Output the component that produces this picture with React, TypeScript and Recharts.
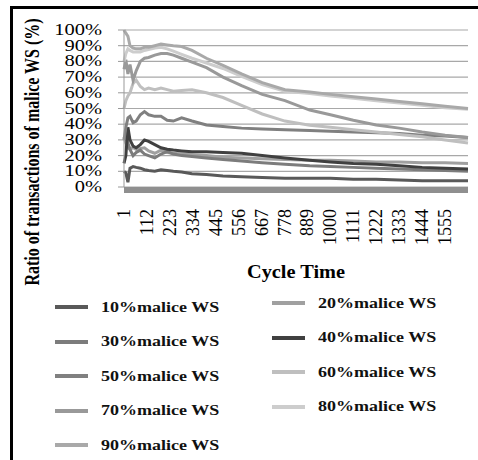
import { CartesianGrid, Label, Line, LineChart, XAxis, YAxis } from 'recharts';

const cycles = [1, 10, 20, 30, 45, 60, 80, 100, 120, 150, 180, 210, 240, 280, 330, 400, 480, 570, 670, 780, 900, 1000, 1111, 1222, 1333, 1444, 1555, 1666];
const xTicks = [1, 112, 223, 334, 445, 556, 667, 778, 889, 1000, 1111, 1222, 1333, 1444, 1555];
const yTicks = [0, 10, 20, 30, 40, 50, 60, 70, 80, 90, 100];

const malice10 = [10, 9, 3, 12, 13, 12.5, 12, 11, 10.5, 10, 11, 10.5, 10, 9.5, 8.5, 8, 7, 6.5, 6, 5.5, 5.5, 5.5, 5, 5, 4.5, 4, 4, 4];
const malice20 = [32, 28, 25, 24, 25, 24, 24.5, 25, 23, 21.5, 23.5, 22, 21.5, 21, 20.5, 20, 19, 18.5, 18, 17.5, 17, 17, 16.5, 16, 16, 15.5, 15.5, 15];
const malice30 = [30, 33, 28, 24, 20, 22, 23.5, 21, 20, 18.5, 21, 22.5, 21, 20, 19.5, 18.5, 17.5, 16.5, 15.5, 14.5, 13.5, 13, 12.5, 12, 11.5, 11, 10.5, 10];
const malice40 = [15, 20, 38, 30, 26, 25, 27, 30, 29, 27, 25, 24, 23.5, 23, 22.5, 22.5, 22, 21.5, 20, 18.5, 17, 16, 15, 14.5, 13.5, 12.5, 12, 11.5];
const malice50 = [30, 38, 44, 45, 41, 42, 46, 48, 46, 45, 45, 42.5, 42, 44, 42, 39.5, 38.5, 37.5, 37, 36.5, 36, 35.5, 35, 34.5, 34, 33, 32.5, 31.5];
const malice60 = [50, 55, 58, 60, 66, 68, 64, 62, 63, 62, 63, 62, 61, 61.5, 62, 60, 57, 52, 46.5, 42, 39.3, 38, 36.5, 35, 33.5, 32, 30, 28];
const malice70 = [75, 81, 72, 78, 68, 74, 80, 82, 82.5, 84, 85, 85, 84, 82, 79.5, 76, 70, 64.5, 59, 55, 49, 46, 42.5, 39.5, 37.5, 35, 33, 31.5];
const malice80 = [80, 85, 88, 87, 86, 86, 86, 87, 87.5, 88.5, 89, 88, 86.5, 84.5, 82, 79, 75.5, 70.4, 65.3, 61, 59.5, 58, 56.5, 55, 53.5, 52, 50.5, 49.5];
const malice90 = [100, 98, 96, 90, 88.5, 88, 88, 89, 89, 90, 91, 90.5, 90, 89.5, 87, 82, 77.5, 72, 66.5, 62, 60.5, 59, 57.5, 56, 54.5, 53, 51.5, 50];

const series = [
  { key: 's10', name: '10%malice WS', color: '#595959', values: malice10 },
  { key: 's20', name: '20%malice WS', color: '#a0a0a0', values: malice20 },
  { key: 's30', name: '30%malice WS', color: '#7c7c7c', values: malice30 },
  { key: 's40', name: '40%malice WS', color: '#404040', values: malice40 },
  { key: 's50', name: '50%malice WS', color: '#808080', values: malice50 },
  { key: 's60', name: '60%malice WS', color: '#bfbfbf', values: malice60 },
  { key: 's70', name: '70%malice WS', color: '#999999', values: malice70 },
  { key: 's80', name: '80%malice WS', color: '#cdcdcd', values: malice80 },
  { key: 's90', name: '90%malice WS', color: '#a9a9a9', values: malice90 },
];

const data = cycles.map((c, i) => {
  const row: Record<string, number> = { cycle: c };
  series.forEach((s) => (row[s.key] = s.values[i]));
  return row;
});

const FONT = '"Liberation Serif", "Times New Roman", serif';

function YTick({ x, y, payload }: any) {
  return (
    <text transform={`translate(${x - 14},${y + 5}) scale(1.28,1)`} textAnchor="end" fontSize={16} fontFamily={FONT} fill="#000">
      {payload.value}%
    </text>
  );
}

function XTick({ x, y, payload }: any) {
  return (
    <text transform={`translate(${x + 6},${y + 14}) rotate(-90)`} textAnchor="end" fontSize={18} fontFamily={FONT} fill="#000">
      {payload.value}
    </text>
  );
}

function Legend9() {
  return (
    <div style={{ position: 'absolute', left: 0, top: 291, width: 478, fontFamily: FONT }}>
      {series.map((s, i) => {
        const col = i % 2;
        const row = Math.floor(i / 2);
        const top = row * 34.5 + (col === 0 ? 4 : 0);
        const left = col === 0 ? 55 : 272;
        return (
          <div key={s.key} style={{ position: 'absolute', left, top, height: 24, display: 'flex', alignItems: 'center' }}>
            <div style={{ width: 33, height: 4, background: s.color }} />
            <div
              style={{
                marginLeft: 13,
                fontSize: 15,
                fontWeight: 'bold',
                whiteSpace: 'nowrap',
                transform: 'scaleX(1.2)',
                transformOrigin: 'left center',
                color: '#111',
              }}
            >
              {s.name}
            </div>
          </div>
        );
      })}
    </div>
  );
}

export default function App() {
  return (
    <div style={{ position: 'absolute', left: 0, top: 0, width: 478, height: 460, background: '#fff', overflow: 'hidden' }}>
      <div
        style={{
          position: 'absolute',
          left: 10,
          top: 6,
          width: 480,
          height: 470,
          borderTop: '3px solid #000',
          borderLeft: '3px solid #000',
        }}
      />
      <div style={{ position: 'absolute', left: 0, top: 0 }}>
        <LineChart width={478} height={290} data={data} margin={{ top: 30, right: 10, left: 0, bottom: 43 }}>
          <CartesianGrid vertical={false} stroke="#a8a8a8" strokeWidth={1.2} />
          <XAxis
            dataKey="cycle"
            type="number"
            domain={[1, 1666]}
            ticks={xTicks}
            interval={0}
            height={60}
            tickLine={false}
            axisLine={{ stroke: '#8f8f8f', strokeWidth: 6, transform: 'translate(0,3)' }}
            tick={<XTick />}
          >
            <Label
              content={({ viewBox }: any) => (
                <text
                  x={viewBox.x + viewBox.width / 2}
                  y={viewBox.y + 91}
                  textAnchor="middle"
                  fontSize={18}
                  fontWeight="bold"
                  fontFamily={FONT}
                  textLength={98}
                  lengthAdjust="spacingAndGlyphs"
                  fill="#000"
                >
                  Cycle Time
                </text>
              )}
            />
          </XAxis>
          <YAxis
            domain={[0, 100]}
            ticks={yTicks}
            interval={0}
            width={124}
            tickSize={6}
            tickLine={{ stroke: '#999' }}
            axisLine={{ stroke: '#999' }}
            tick={<YTick />}
          >
            <Label
              content={() => (
                <text
                  transform="translate(39,152) rotate(-90) scale(0.8,1)"
                  textAnchor="middle"
                  fontSize={20}
                  fontWeight="bold"
                  fontFamily={FONT}
                  fill="#000"
                >
                  Ratio of transactions of malice WS (%)
                </text>
              )}
            />
          </YAxis>
          {series.map((s) => (
            <Line
              key={s.key}
              dataKey={s.key}
              name={s.name}
              stroke={s.color}
              strokeWidth={3}
              dot={false}
              type="linear"
              isAnimationActive={false}
            />
          ))}
        </LineChart>
      </div>
      <Legend9 />
    </div>
  );
}
